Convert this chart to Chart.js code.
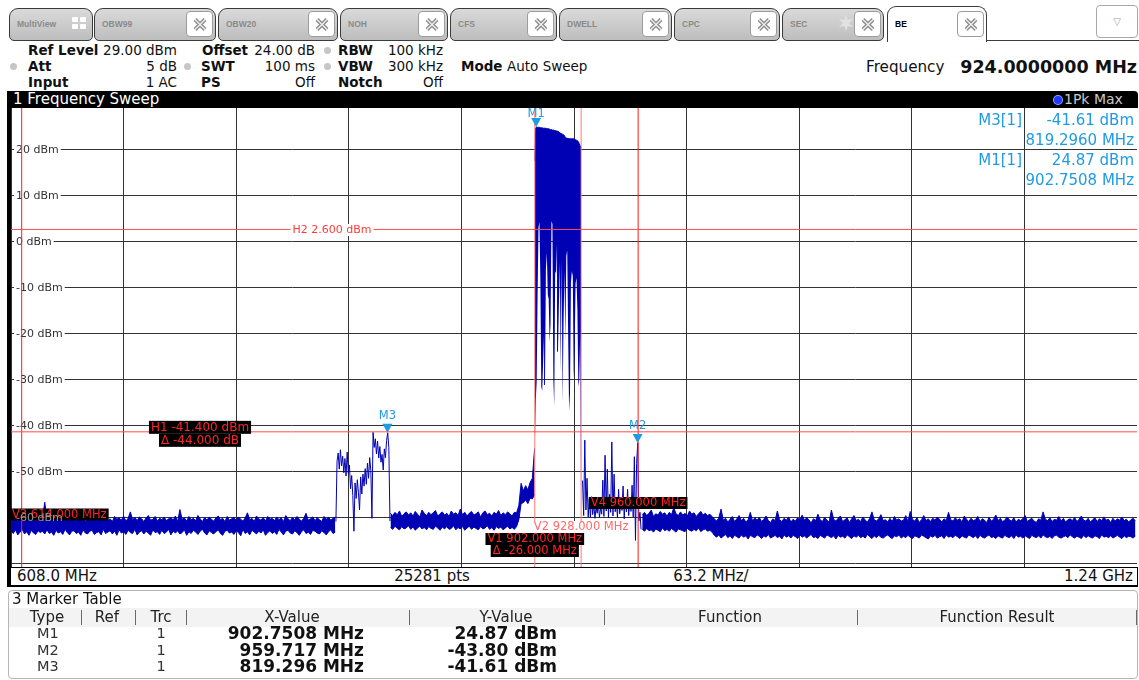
<!DOCTYPE html>
<html>
<head>
<meta charset="utf-8">
<title>1 Frequency Sweep</title>
<script src="https://cdn.jsdelivr.net/npm/chart.js@4.4.1/dist/chart.umd.min.js"></script>
<style>
  * { box-sizing: border-box; }
  html, body { margin: 0; padding: 0; width: 1139px; height: 680px; overflow: hidden; background: #fff;
    font-family: "DejaVu Sans", Verdana, sans-serif; color: #111; }
  .a { position: absolute; white-space: nowrap; }
  .tab { position: absolute; top: 8px; height: 33px; border: 1.5px solid #3a3a3a; border-radius: 9px 9px 5px 5px;
    background: linear-gradient(#dadada, #bdbdbd); }
  .tab.active { top: 6px; height: 36px; background: #fff; border-bottom: none; border-radius: 9px 9px 0 0; z-index: 2; }
  .tab .lbl { position: absolute; left: 7px; top: 10px; font: bold 8.5px "Liberation Sans", Arial, sans-serif; color: #8a8a8a; }
  .tab.active .lbl { color: #000; top: 12px; }
  .tab .x { position: absolute; top: 2px; width: 27px; height: 26px; background: #fff; border: 1px solid #9c9c9c; border-radius: 4px; }
  .tab.active .x { top: 4px; }
  .tab .x svg { position: absolute; left: 5px; top: 5px; }
  .h { position: absolute; font-size: 13.5px; line-height: 16px; white-space: nowrap; color: #111; }
  .h.b { font-weight: bold; }
  .dot { position: absolute; width: 7px; height: 7px; border-radius: 50%; background: #c6c6c6; }
  .ax { position: absolute; top: 0; font-size: 15px; line-height: 16px; white-space: nowrap; color: #111; }
  .th { position: absolute; top: 608px; font-size: 15px; line-height: 19px; white-space: nowrap; color: #222; transform: translateX(-50%); }
  .sep { position: absolute; top: 610px; width: 1px; height: 15px; background: #6a6a6a; }
  .td { position: absolute; font-size: 14.5px; line-height: 17px; white-space: nowrap; color: #333; }
  .tv { position: absolute; font-size: 17px; line-height: 17px; font-weight: bold; white-space: nowrap; color: #111; }
</style>
</head>
<body>

<div id="tabs"></div>
<div class="a" style="left:986px;top:39.5px;width:153px;height:1.5px;background:#3a3a3a"></div>
<div class="a" style="left:1096px;top:5px;width:42px;height:33px;border:1px solid #a8a8a8;border-radius:4px;background:#fff;text-align:center;font-size:10px;line-height:31px;color:#9a9a9a">&#9661;</div>

<!-- instrument settings -->
<div class="h b" style="left:28px;top:42px">Ref Level</div>
<div class="h" style="right:962px;top:42px">29.00 dBm</div>
<div class="h b" style="left:202px;top:42px">Offset</div>
<div class="h" style="right:824px;top:42px">24.00 dB</div>
<div class="dot" style="left:323.5px;top:46.5px"></div>
<div class="h b" style="left:338px;top:42px">RBW</div>
<div class="h" style="right:696px;top:42px">100 kHz</div>

<div class="dot" style="left:9.5px;top:62.5px"></div>
<div class="h b" style="left:28px;top:58px">Att</div>
<div class="h" style="right:962px;top:58px">5 dB</div>
<div class="dot" style="left:183.5px;top:62.5px"></div>
<div class="h b" style="left:201px;top:58px">SWT</div>
<div class="h" style="right:824px;top:58px">100 ms</div>
<div class="dot" style="left:323.5px;top:62.5px"></div>
<div class="h b" style="left:338px;top:58px">VBW</div>
<div class="h" style="right:696px;top:58px">300 kHz</div>
<div class="h b" style="left:461px;top:58px">Mode</div>
<div class="h" style="left:507px;top:58px">Auto Sweep</div>

<div class="h b" style="left:28px;top:74px">Input</div>
<div class="h" style="right:962px;top:74px">1 AC</div>
<div class="h b" style="left:201px;top:74px">PS</div>
<div class="h" style="right:824px;top:74px">Off</div>
<div class="h b" style="left:338px;top:74px">Notch</div>
<div class="h" style="right:696px;top:74px">Off</div>

<div class="h" style="left:866px;top:57px;font-size:15.2px;line-height:20px">Frequency</div>
<div class="h b" style="right:2px;top:56px;font-size:17.5px;line-height:22px">924.0000000 MHz</div>

<!-- window title -->
<div class="a" style="left:8px;top:91px;width:1130px;height:17px;background:#000;border-radius:4px 4px 0 0">
  <span class="a" style="left:5px;top:0;color:#fff;font-size:15px;line-height:17px">1 Frequency Sweep</span>
  <span class="a" style="left:1046px;top:5px;width:8px;height:8px;border-radius:50%;background:#2038ff;box-shadow:0 0 0 1px #9aa4ff"></span>
  <span class="a" style="left:1056px;top:0;color:#c8c8c8;font-size:14px;line-height:17px">1Pk Max</span>
</div>
<div class="a" style="left:7px;top:91px;width:4px;height:496px;background:#000"></div>

<canvas id="spec" width="1126" height="460" style="position:absolute;left:11px;top:108px"></canvas>

<!-- frequency axis bar -->
<div class="a" style="left:11px;top:567px;width:1127px;height:20px;border-top:1px solid #000;border-bottom:2px solid #000;border-right:1px solid #000;background:#fff">
  <span class="ax" style="left:6px">608.0 MHz</span>
  <span class="ax" style="left:421px;transform:translateX(-50%)">25281 pts</span>
  <span class="ax" style="left:700px;transform:translateX(-50%)">63.2 MHz/</span>
  <span class="ax" style="right:4px">1.24 GHz</span>
</div>

<!-- marker table window -->
<div class="a" style="left:8px;top:590px;width:1130px;height:89px;border:1px solid #b5b5b5;border-radius:4px;background:#fff"></div>
<div class="a" style="left:12px;top:590px;font-size:15px;line-height:18px;color:#111">3 Marker Table</div>
<div class="a" style="left:9px;top:608px;width:1128px;height:19px;background:#f3f3f3"></div>
<div id="mtable"></div>

<script>
// ---- sweep setup ----
const START_MHZ = 608.0;
const STOP_MHZ = 1240.0;
const REF_LEVEL_DBM = 29.0;
const BOTTOM_DBM = -71.0;

const gridFreqMHz = [608.0, 671.2, 734.4, 797.6, 860.8, 924.0, 987.2, 1050.4, 1113.6, 1176.8, 1240.0];
const levelTicksDbm = [-70, -60, -50, -40, -30, -20, -10, 0, 10, 20];
const levelLabelsDbm = [-60, -50, -40, -30, -20, -10, 0, 10, 20];

// ---- trace 1 (1Pk Max) ----
// noise floor sections: highest and lowest level inside each display bin
const floorLowStartMHz = 608.0, floorLowStepMHz = 1.264;
const floorLowMaxDbm = [
  -60.1,-60.6,-59.8,-60.9,-60.3,-59.6,-60.7,-60.2,-60.9,-59.9,
  -60.4,-60.8,-59.7,-60.5,-60.0,-56.7,-60.6,-60.3,-59.8,-60.9,
  -60.2,-60.7,-59.6,-60.4,-60.8,-60.1,-59.9,-59.0,-60.5,-60.7,
  -60.0,-60.4,-59.7,-60.9,-60.3,-59.8,-60.6,-60.1,-60.8,-59.9,
  -60.5,-60.2,-59.6,-60.7,-60.3,-60.9,-59.8,-60.4,-60.1,-60.6,
  -59.7,-60.8,-60.2,-58.8,-60.5,-60.0,-60.7,-59.9,-60.3,-60.9,
  -60.1,-59.6,-60.6,-60.4,-59.8,-60.8,-60.2,-60.5,-59.9,-60.7,
  -60.3,-60.0,-60.6,-59.7,-60.9,-58.3,-60.4,-60.1,-60.8,-59.8,
  -60.5,-60.2,-60.7,-59.6,-60.3,-60.9,-60.0,-60.6,-59.9,-60.4,
  -60.8,-60.1,-59.7,-60.5,-60.2,-60.9,-59.8,-60.6,-60.3,-60.0,
  -60.7,-59.9,-60.4,-60.8,-60.1,-59.0,-60.5,-60.2,-60.9,-59.7,
  -60.3,-60.6,-60.0,-60.8,-59.8,-60.4,-60.2,-60.7,-59.9,-60.5,
  -60.1,-60.9,-59.6,-60.3,-60.7,-60.0,-60.5,-59.8,-60.4,-60.8,
  -60.2,-59.1,-60.6,-60.3,-59.9,-60.7,-60.1,-60.5,-60.9,-59.8,
  -60.4,-60.0,-60.6,-60.2,-59.9
];
const floorLowMinDbm = [
  -63.0,-63.5,-62.7,-63.8,-63.2,-62.6,-63.6,-63.1,-63.9,-62.8,
  -63.4,-63.7,-62.9,-63.3,-63.0,-63.6,-62.7,-63.5,-63.2,-63.9,
  -62.8,-63.4,-63.1,-63.7,-62.6,-63.3,-63.8,-63.0,-62.9,-63.5,
  -63.2,-63.9,-62.7,-63.4,-63.6,-63.0,-62.8,-63.7,-63.3,-63.1,
  -63.8,-62.6,-63.5,-63.2,-62.9,-63.6,-63.0,-63.9,-62.7,-63.4,
  -63.1,-63.7,-62.8,-63.3,-63.5,-62.6,-63.8,-63.2,-62.9,-63.6,
  -63.0,-63.4,-63.9,-62.7,-63.3,-63.1,-63.7,-62.8,-63.5,-63.2,
  -62.6,-63.8,-63.0,-63.4,-62.9,-63.6,-63.3,-62.7,-63.9,-63.1,
  -63.5,-62.8,-63.2,-63.7,-63.0,-62.6,-63.4,-63.8,-62.9,-63.3,
  -63.6,-63.1,-62.7,-63.5,-63.9,-63.0,-62.8,-63.4,-63.2,-63.7,
  -62.9,-63.3,-64.0,-62.6,-63.5,-63.1,-63.8,-62.8,-63.2,-63.6,
  -63.0,-63.4,-62.7,-63.9,-63.3,-62.9,-63.5,-63.1,-63.7,-62.6,
  -63.2,-63.8,-63.0,-62.8,-63.4,-63.6,-62.9,-63.3,-63.9,-63.1,
  -62.7,-63.5,-63.2,-63.7,-62.8,-63.0,-63.4,-63.6,-62.9,-63.3,
  -63.8,-63.1,-62.7,-63.5,-63.2
];

const preChannelStartMHz = 821.0, preChannelStepMHz = 1.264;
const preChannelMaxDbm = [
  -59.1,-59.6,-58.9,-59.4,-58.6,-59.8,-59.2,-58.8,-59.5,-59.0,
  -59.7,-58.7,-59.3,-59.9,-58.4,-59.1,-59.6,-58.9,-59.4,-59.0,
  -58.5,-59.7,-59.2,-58.8,-59.5,-59.1,-59.8,-58.6,-59.3,-59.0,
  -59.6,-58.2,-59.4,-58.9,-59.7,-59.1,-58.7,-59.5,-59.2,-58.8,
  -59.9,-59.0,-58.6,-59.4,-59.1,-59.7,-58.9,-59.3,-58.5,-59.6,
  -59.0,-59.4,-58.8,-59.2,-59.7,-58.9,-59.0,-57.4,-52.6,-54.2,
  -53.1,-54.0,-52.4,-51.5,-45.0
];
const preChannelMinDbm = [
  -62.2,-62.6,-61.9,-62.4,-62.7,-62.0,-62.5,-62.3,-61.8,-62.6,
  -62.1,-62.8,-62.3,-61.9,-62.5,-62.2,-62.7,-62.0,-62.4,-62.6,
  -61.9,-62.3,-62.8,-62.1,-62.5,-62.0,-62.6,-62.4,-61.8,-62.7,
  -62.2,-62.5,-62.0,-62.8,-62.3,-61.9,-62.6,-62.1,-62.4,-62.7,
  -62.0,-62.5,-62.3,-61.8,-62.6,-62.2,-62.8,-62.0,-62.4,-62.1,
  -62.7,-62.3,-61.9,-62.5,-62.2,-62.6,-62.0,-60.5,-57.0,-56.8,
  -56.2,-57.0,-55.8,-56.0,-55.0
];

// occupied channel: highest and lowest level per bin
const channelStartMHz = 902.0, channelStepMHz = 0.52;
const channelPeakDbm = [
  17.5, 24.7, 24.87, 24.8, 24.8, 24.8, 24.7, 24.7, 24.7, 24.6,
  24.6, 24.6, 24.6, 24.5, 24.5, 24.5, 24.4, 24.3, 24.3, 24.2,
  24.2, 24.1, 24.1, 24.0, 24.0, 23.9, 23.8, 23.6, 23.5, 23.4,
  23.3, 23.2, 23.0, 22.6, 22.5, 22.4, 22.4, 22.3, 22.3, 22.3,
  22.3, 22.3, 22.3, 22.2, 22.1, 22.0, 21.9, 21.7, 21.2, 20.8,
  20.3
];
const channelDipDbm = [
  -45.0,-34.8,-30.5,-12.0, 3.0, 4.2, -8.0,-31.6,-32.5,-26.0,
  -20.0,-31.2, -6.0, -2.5,-11.6,-12.5,-22.0,-18.0, 4.4, 3.8,
  -30.0,-35.9, -6.5, -7.0, -0.3,-24.0,-14.0, -4.6,-28.6, -4.0,
  -35.2,-18.0, -6.5,-22.0, -3.2, -2.0,-20.0,-37.0,-33.0, -9.0,
  -6.5, -7.5,-29.9,-24.0, -9.2, -7.9,-15.0,-31.6,-30.0,-20.0,
  -59.5
];

const floorHighStartMHz = 962.3, floorHighStepMHz = 1.264;
const floorHighMaxDbm = [
  -59.4,-58.9,-59.6,-59.1,-58.4,-59.8,-59.2,-59.5,-58.7,-59.3,
  -59.0,-59.7,-58.9,-59.4,-57.9,-59.2,-59.6,-58.8,-59.5,-59.1,
  -59.7,-58.6,-59.3,-59.0,-59.8,-59.2,-58.7,-59.5,-59.1,-59.6,
  -59.3,-59.8,-60.3,-60.8,-60.1,-58.2,-60.6,-60.2,-61.0,-60.4,
  -59.8,-60.9,-60.3,-59.6,-60.7,-60.2,-61.0,-60.5,-58.9,-60.8,
  -60.1,-60.6,-60.0,-60.9,-60.4,-59.7,-60.7,-61.1,-60.3,-60.7,
  -58.6,-60.5,-60.9,-60.2,-60.6,-59.9,-61.0,-60.4,-60.8,-60.1,
  -60.6,-59.5,-60.6,-60.1,-60.5,-61.2,-60.3,-60.7,-59.3,-60.5,
  -60.9,-60.0,-60.6,-61.0,-58.4,-60.4,-60.8,-60.2,-59.7,-60.9,
  -60.5,-60.1,-61.1,-60.3,-59.6,-60.7,-60.4,-60.9,-59.9,-60.6,
  -61.0,-60.2,-58.8,-60.5,-60.8,-60.3,-59.4,-60.7,-60.5,-61.0,
  -60.2,-60.9,-59.8,-60.6,-60.3,-60.8,-60.6,-59.6,-60.9,-58.7,
  -60.4,-60.8,-60.1,-61.1,-60.5,-59.6,-60.7,-60.3,-60.9,-60.2,
  -60.6,-59.9,-60.4,-61.0,-60.3,-60.7,-58.9,-60.5,-60.8,-60.1,
  -60.6,-60.3,-61.0,-59.7,-60.4,-60.9,-60.2,-60.7,-60.5,-59.8,
  -60.9,-60.3,-60.6,-61.1,-60.0,-60.8,-60.4,-59.5,-60.7,-60.2,
  -60.9,-60.6,-59.9,-60.5,-60.8,-60.1,-61.0,-60.4,-60.7,-60.3,
  -59.6,-60.9,-60.5,-60.2,-60.8,-61.1,-60.3,-60.6,-58.8,-60.4,
  -60.7,-60.1,-60.9,-60.4,-60.6,-59.8,-60.8,-60.2,-61.0,-60.5,
  -60.3,-60.7,-60.0,-60.9,-60.4,-59.7,-60.6,-60.8,-60.2,-61.0,
  -60.5,-60.1,-60.9,-60.3,-60.7,-59.9,-60.6,-60.4,-61.1,-60.2,
  -60.8,-60.3,-60.6,-59.9,-60.7,-60.4,-61.0,-60.5,-60.2,-60.8
];
const floorHighMinDbm = [
  -62.6,-63.0,-62.4,-62.9,-62.7,-63.2,-62.5,-62.8,-63.1,-62.3,
  -62.9,-62.6,-63.0,-62.4,-62.8,-63.2,-62.5,-62.7,-62.9,-63.1,
  -62.4,-62.8,-63.0,-62.6,-62.9,-62.3,-63.1,-62.7,-62.5,-63.0,
  -62.8,-63.2,-63.9,-64.3,-63.8,-64.5,-64.1,-63.7,-64.4,-64.0,
  -64.6,-63.9,-64.2,-64.5,-63.8,-64.3,-64.0,-64.7,-63.9,-64.2,
  -64.4,-63.8,-64.1,-64.6,-64.0,-64.3,-63.7,-64.5,-64.2,-63.9,
  -64.4,-64.1,-64.7,-63.8,-64.3,-64.0,-64.5,-63.9,-64.2,-64.6,
  -63.8,-64.3,-64.0,-64.5,-64.1,-63.7,-64.4,-64.2,-64.6,-63.9,
  -64.2,-64.5,-63.8,-64.1,-64.4,-64.0,-64.7,-63.9,-64.3,-64.1,
  -64.5,-63.8,-64.2,-64.6,-64.0,-64.3,-63.9,-64.4,-64.1,-64.5,
  -63.7,-64.2,-64.6,-64.0,-64.4,-63.9,-64.3,-64.5,-64.1,-63.8,
  -64.3,-64.6,-64.0,-64.2,-63.8,-64.5,-64.1,-64.4,-63.9,-64.3,
  -64.6,-64.0,-64.2,-64.5,-63.8,-64.1,-64.4,-64.7,-64.0,-64.3,
  -63.9,-64.5,-64.2,-64.0,-64.6,-63.8,-64.3,-64.1,-64.4,-63.9,
  -64.2,-64.6,-64.0,-64.3,-64.5,-63.8,-64.1,-64.4,-64.0,-64.6,
  -63.9,-64.3,-64.5,-64.1,-63.8,-64.4,-64.2,-64.6,-64.0,-64.3,
  -64.5,-63.9,-64.2,-64.4,-64.0,-64.6,-63.8,-64.3,-64.1,-64.5,
  -64.0,-64.3,-64.6,-63.9,-64.2,-64.4,-64.0,-64.5,-63.8,-64.2,
  -64.4,-64.1,-64.6,-64.0,-63.9,-64.3,-64.5,-64.2,-64.0,-64.4,
  -63.8,-64.2,-64.5,-64.1,-64.3,-64.6,-63.9,-64.4,-64.0,-64.3,
  -64.5,-64.0,-64.2,-64.6,-63.8,-64.3,-64.1,-64.4,-64.0,-64.5,
  -64.2,-63.9,-64.3,-64.6,-64.0,-64.4,-64.1,-64.2,-64.5,-64.0
];

// spur regions: consecutive sweep points
const spurM3StartMHz = 790.368, spurM3StepMHz = 0.632;
const spurM3Dbm = [
  -60.9,
  -47.8,-46.0,-49.5,-45.3,-48.8,-46.7,-50.3,-47.2,-51.0,-45.8,
  -50.4,-48.6,-53.8,-50.9,-55.2,-63.0,-52.5,-55.9,-51.8,-54.6,
  -58.4,-51.2,-54.9,-50.6,-53.2,-49.4,-52.8,-48.2,-51.5,-47.0,
  -49.8,-60.2,-41.5,-44.8,-42.9,-46.2,-43.4,-47.1,-44.6,-48.0,
  -46.3,-49.7,-45.1,-47.0,-43.3,-41.6,-44.8,-60.8
];
const spurM2StartMHz = 928.8, spurM2StepMHz = 0.632;
const spurM2Dbm = [
  -52.0,-59.6,-43.2,-58.4,-51.5,-59.9,-56.0,-60.1,-55.5,-59.4,
  -57.0,-60.2,-57.8,-59.1,-56.8,-60.0,-57.9,-59.3,-51.9,-59.8,
  -46.5,-58.6,-49.5,-60.1,-55.0,-58.9,-43.6,-59.7,-50.6,-58.8,
  -56.4,-60.0,-53.9,-59.2,-56.9,-58.5,-53.2,-60.3,-55.7,-58.8,
  -53.9,-59.6,-56.2,-58.7,-53.0,-59.9,-46.8,-65.0,-48.3,-43.8,
  -60.8,-58.9,-62.6
];

// ---- display lines ----
const hLineNames = ['H1', 'H2'];
const hLineDbm = [-41.4, 2.6];
const vLineNames = ['V1', 'V2', 'V3', 'V4'];
const vLineMHz = [902.0, 928.0, 614.0, 960.0];

// ---- markers ----
const markerNames = ['M1', 'M2', 'M3'];
const markerMHz = [902.7508, 959.717, 819.296];
const markerDbm = [24.87, -43.80, -41.61];
const readoutMarkers = ['M3', 'M1'];

// ---- tab strip ----
const tabDefs = [
  ['MultiView', 9, 93], ['OBW99', 94, 216], ['OBW20', 218, 338], ['NOH', 340, 448],
  ['CFS', 450, 557], ['DWELL', 559, 672], ['CPC', 674, 780], ['SEC', 782, 884], ['BE', 887, 987]
];
const closeIcon = '<svg width="16" height="15" viewBox="0 0 16 15"><path d="M3 2.5L13 12.5M13 2.5L3 12.5" stroke="#8d8d8d" stroke-width="4"/><path d="M3 2.5L13 12.5M13 2.5L3 12.5" stroke="#f2f2f2" stroke-width="1.2"/></svg>';
const tabsEl = document.getElementById('tabs');
tabDefs.forEach(([label, l, r]) => {
  const t = document.createElement('div');
  t.className = 'tab' + (label === 'BE' ? ' active' : '');
  t.style.left = l + 'px';
  t.style.width = (r - l) + 'px';
  let inner = `<span class="lbl">${label}</span>`;
  if (label === 'MultiView') {
    inner += '<span class="a" style="left:62px;top:8px;width:14px;height:13px">' +
      '<i class="a" style="left:0;top:0;width:6px;height:5px;background:#fff;border-radius:1px"></i>' +
      '<i class="a" style="left:8px;top:0;width:6px;height:5px;background:#fff;border-radius:1px"></i>' +
      '<i class="a" style="left:0;top:7px;width:6px;height:5px;background:#fff;border-radius:1px"></i>' +
      '<i class="a" style="left:8px;top:7px;width:6px;height:5px;background:#fff;border-radius:1px"></i></span>';
  } else {
    inner += `<span class="x" style="left:${r - l - 31}px">${closeIcon}</span>`;
  }
  if (label === 'SEC') {
    inner += '<svg class="a" style="left:55px;top:6px" width="16" height="16" viewBox="0 0 16 16"><polygon points="8,0 9.6,5 15,4 11,8 15,12 9.6,11 8,16 6.4,11 1,12 5,8 1,4 6.4,5" fill="#e2e2e2"/></svg>';
  }
  t.innerHTML = inner;
  tabsEl.appendChild(t);
});

// ---- marker table ----
const tableHeads = [['Type', 47], ['Ref', 107], ['Trc', 161], ['X-Value', 292], ['Y-Value', 506], ['Function', 730], ['Function Result', 997]];
const tableSeps = [81, 135, 186, 409, 604, 857, 1136];
let mt = '';
tableHeads.forEach(([t, cx]) => { mt += `<div class="th" style="left:${cx}px">${t}</div>`; });
tableSeps.forEach(x => { mt += `<div class="sep" style="left:${x}px"></div>`; });
const rowTops = [625, 641.5, 658];
markerNames.forEach((n, i) => {
  const top = rowTops[i];
  mt += `<div class="td" style="left:37px;top:${top}px">${n}</div>`;
  mt += `<div class="td" style="left:161px;top:${top}px;transform:translateX(-50%)">1</div>`;
  mt += `<div class="tv" style="right:775px;top:${top}px">${String(markerMHz[i])} MHz</div>`;
  mt += `<div class="tv" style="right:582px;top:${top}px">${markerDbm[i].toFixed(2)} dBm</div>`;
});
document.getElementById('mtable').innerHTML = mt;

// ---- trace assembly ----
function sweep(startMHz, stepMHz, levels) {
  return levels.map((v, i) => ({ x: startMHz + i * stepMHz, y: v }));
}

const TRACE_BLUE = '#0000b4';
const MARK_BLUE = '#1f9be3';
const LINE_RED = '#ff2424';
const PLOT_FONT = '"DejaVu Sans", Verdana, sans-serif';

const datasets = [];
hLineNames.forEach((n, i) => datasets.push({
  label: n, data: [{ x: START_MHZ, y: hLineDbm[i] }, { x: STOP_MHZ, y: hLineDbm[i] }],
  borderColor: '#ff4c4c', borderWidth: 1, pointRadius: 0, fill: false, order: 1
}));
vLineNames.forEach((n, i) => datasets.push({
  label: n, data: [{ x: vLineMHz[i], y: BOTTOM_DBM }, { x: vLineMHz[i], y: REF_LEVEL_DBM }],
  borderColor: (n === 'V1' || n === 'V2') ? '#ff7878' : '#ff1c1c', borderWidth: 1, pointRadius: 0, fill: false, order: 1
}));

// each band = upper edge filled down to its lower edge
function addBand(startMHz, stepMHz, upper, lower, lowerStroke) {
  datasets.push({
    label: '1Pk Max', data: sweep(startMHz, stepMHz, upper), borderColor: TRACE_BLUE, borderWidth: 1,
    backgroundColor: TRACE_BLUE, fill: '+1', pointRadius: 0, tension: 0, order: 10
  });
  datasets.push({
    label: '1Pk Max', data: sweep(startMHz, stepMHz, lower), borderColor: TRACE_BLUE, borderWidth: lowerStroke,
    fill: false, pointRadius: 0, tension: 0, order: 10
  });
}
addBand(floorLowStartMHz, floorLowStepMHz, floorLowMaxDbm, floorLowMinDbm, 1);
addBand(preChannelStartMHz, preChannelStepMHz, preChannelMaxDbm, preChannelMinDbm, 1);
addBand(channelStartMHz, channelStepMHz, channelPeakDbm, channelDipDbm, 0);
addBand(floorHighStartMHz, floorHighStepMHz, floorHighMaxDbm, floorHighMinDbm, 1);
datasets.push({
  label: '1Pk Max',
  data: [...sweep(spurM3StartMHz, spurM3StepMHz, spurM3Dbm), { x: 821.0, y: null },
         ...sweep(spurM2StartMHz, spurM2StepMHz, spurM2Dbm)],
  borderColor: TRACE_BLUE, borderWidth: 1, pointRadius: 0, tension: 0, fill: false, spanGaps: false, order: 10
});

// label tags on lines: box of text lines centred on an anchor x
function drawTag(ctx, a, lines, cx, top, px, color, bg) {
  ctx.font = `${px}px ${PLOT_FONT}`;
  ctx.textAlign = 'left';
  ctx.textBaseline = 'middle';
  const lh = Math.round(px + 0.5);
  const rects = [];
  lines.forEach((t, k) => {
    const w = ctx.measureText(t).width + 4;
    const l = Math.max(a.left - 1, Math.min(cx - w / 2, a.right - w));
    const y0 = top + k * lh;
    ctx.fillStyle = bg;
    ctx.fillRect(l, y0, w, lh);
    ctx.fillStyle = color;
    ctx.fillText(t, l + 2, y0 + lh / 2 + 0.5);
    rects.push({ l: l, t: y0, r: l + w, b: y0 + lh });
  });
  return rects;
}

function levelLabelRect(ctx, a, y, v) {
  ctx.font = `11px ${PLOT_FONT}`;
  const w = ctx.measureText(`${v} dBm`).width;
  const py = y.getPixelForValue(v);
  return { l: a.left + 3, t: py - 6, r: a.left + 7 + w, b: py + 6, py: py };
}

const overlay = {
  id: 'overlay',
  beforeDatasetsDraw(chart) {
    const { ctx, chartArea: a, scales: { y } } = chart;
    ctx.save();
    levelLabelsDbm.forEach(v => {
      const r = levelLabelRect(ctx, a, y, v);
      ctx.fillStyle = '#fff';
      ctx.fillRect(r.l, r.t, r.r - r.l, r.b - r.t);
      ctx.fillStyle = '#333';
      ctx.textAlign = 'left';
      ctx.textBaseline = 'middle';
      ctx.fillText(`${v} dBm`, a.left + 5, r.py + 0.5);
    });
    ctx.restore();
  },
  afterDatasetsDraw(chart) {
    const { ctx, chartArea: a, scales: { x, y } } = chart;
    ctx.save();
    const boxes = [];

    // horizontal lines
    const h1 = hLineDbm[0], h2 = hLineDbm[1];
    const h2y = y.getPixelForValue(h2);
    boxes.push(...drawTag(ctx, a, [`H2 ${h2.toFixed(3)} dBm`], a.left + 321, h2y - 5.5, 11, '#ff3a3a', '#fff'));
    const h1y = y.getPixelForValue(h1);
    boxes.push(...drawTag(ctx, a, [`H1 ${h1.toFixed(3)} dBm`, `\u0394 ${(h1 - h2).toFixed(3)} dB`],
      a.left + 189, h1y - 11, 12, LINE_RED, '#000'));

    // vertical lines
    const vTop = { V1: 425, V2: 413, V3: 400.5, V4: 389 };
    vLineNames.forEach((n, i) => {
      const f = vLineMHz[i];
      const vx = x.getPixelForValue(f);
      const lines = [`${n} ${f.toFixed(3)} MHz`];
      if (n === 'V1') lines.push(`\u0394 ${(vLineMHz[0] - vLineMHz[1]).toFixed(3)} MHz`);
      const light = n === 'V2';
      boxes.push(...drawTag(ctx, a, lines, vx, a.top + vTop[n], 11.5,
        light ? '#ff6a6a' : LINE_RED, light ? '#fff' : '#000'));
    });

    // level labels sitting under a dark tag stay readable
    levelLabelsDbm.forEach(v => {
      const r = levelLabelRect(ctx, a, y, v);
      const hit = boxes.some(b => b.l < r.r && b.r > r.l && b.t < r.b && b.b > r.t);
      if (hit) {
        ctx.fillStyle = '#9a9a9a';
        ctx.textAlign = 'left';
        ctx.textBaseline = 'middle';
        ctx.font = `11px ${PLOT_FONT}`;
        ctx.fillText(`${v} dBm`, a.left + 5, r.py + 0.5);
      }
    });

    // markers
    markerNames.forEach((n, i) => {
      const px = x.getPixelForValue(markerMHz[i]);
      const py = y.getPixelForValue(markerDbm[i]);
      ctx.fillStyle = MARK_BLUE;
      ctx.beginPath();
      ctx.moveTo(px - 5, py - 9);
      ctx.lineTo(px + 5, py - 9);
      ctx.lineTo(px, py);
      ctx.closePath();
      ctx.fill();
      ctx.font = `11.5px ${PLOT_FONT}`;
      ctx.textAlign = 'center';
      ctx.textBaseline = 'middle';
      ctx.fillText(n, px, Math.max(a.top + 6.5, py - 17));
    });

    // marker readout
    ctx.font = `15px ${PLOT_FONT}`;
    ctx.textAlign = 'right';
    ctx.textBaseline = 'middle';
    ctx.fillStyle = MARK_BLUE;
    readoutMarkers.forEach((n, k) => {
      const i = markerNames.indexOf(n);
      const ty = a.top + 13 + k * 40;
      ctx.fillText(`${n}[1]`, a.left + 1011, ty);
      ctx.fillText(`${markerDbm[i].toFixed(2)} dBm`, a.left + 1123, ty);
      ctx.fillText(`${markerMHz[i].toFixed(4)} MHz`, a.left + 1123, ty + 20);
    });
    ctx.restore();
  }
};

const gridStyle = { color: '#333', lineWidth: 1, drawTicks: false };
new Chart(document.getElementById('spec'), {
  type: 'line',
  data: { datasets: datasets },
  options: {
    responsive: false,
    animation: false,
    devicePixelRatio: 1,
    events: [],
    layout: { padding: 0 },
    plugins: { legend: { display: false }, tooltip: { enabled: false }, filler: { propagate: false } },
    scales: {
      x: {
        type: 'linear', min: START_MHZ, max: STOP_MHZ,
        afterBuildTicks: s => { s.ticks = gridFreqMHz.map(v => ({ value: v })); },
        ticks: { display: false }, grid: gridStyle, border: { display: false }
      },
      y: {
        type: 'linear', min: BOTTOM_DBM, max: REF_LEVEL_DBM,
        afterBuildTicks: s => { s.ticks = levelTicksDbm.map(v => ({ value: v })); },
        ticks: { display: false }, grid: gridStyle, border: { display: false }
      }
    }
  },
  plugins: [overlay]
});
</script>
</body>
</html>
